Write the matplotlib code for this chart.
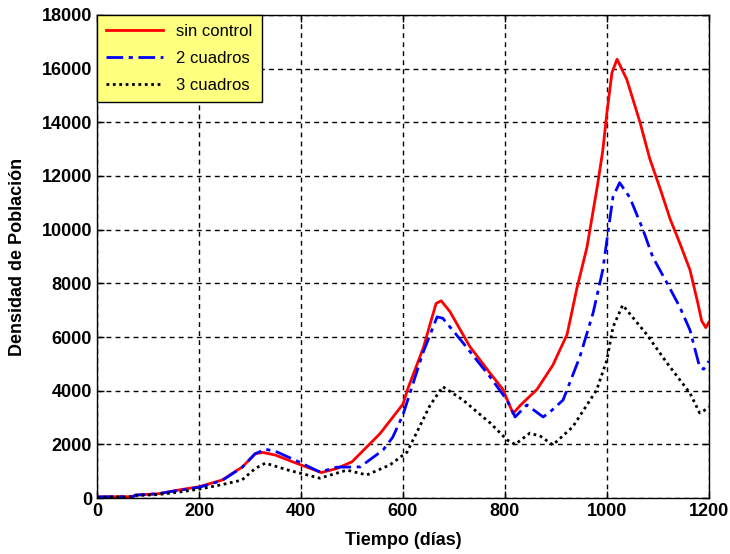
import numpy as np
import matplotlib
matplotlib.use("Agg")
import matplotlib.pyplot as plt

plt.rcParams['font.family'] = ['Liberation Sans', 'DejaVu Sans']

# Densidad de población en el tiempo (días) para cada estrategia
red_t = [0, 40, 70, 75, 120, 160, 200, 245, 285, 310, 325, 350, 385, 440, 470,
         500, 555, 600, 610, 640, 655, 665, 675, 692, 731, 771, 796, 816, 830, 863,
         894, 922, 941, 961, 982, 992, 1000, 1010, 1020, 1039, 1065, 1084, 1105,
         1124, 1143, 1163, 1178, 1186, 1194, 1200]
red_v = [40, 50, 50, 110, 160, 300, 420, 670, 1160, 1650, 1700, 1600, 1340, 950,
         1100, 1350, 2400, 3500, 4100, 5600, 6600, 7250, 7350, 6950, 5650, 4650,
         4050, 3150, 3450, 4050, 4950, 6100, 7800, 9350, 11700, 12950, 14350,
         15850, 16350, 15600, 14000, 12650, 11500, 10400, 9500, 8500, 7300, 6600,
         6350, 6550]

blue_t = [0, 40, 70, 75, 120, 160, 200, 245, 285, 310, 330, 350, 390, 437, 470,
          516, 561, 580, 600, 639, 667, 678, 718, 771, 804, 820, 843, 875, 888,
          914, 947, 973, 992, 1002, 1012, 1025, 1045, 1071, 1090, 1118, 1143,
          1163, 1182, 1190, 1200]
blue_v = [40, 50, 50, 110, 160, 290, 400, 650, 1150, 1650, 1820, 1740, 1400, 970,
          1150, 1160, 1790, 2270, 3100, 5400, 6750, 6700, 5780, 4510, 3650, 3020,
          3470, 3020, 3200, 3650, 5260, 6900, 8500, 9880, 11220, 11750, 11200,
          9990, 8980, 8010, 7120, 6260, 4880, 4800, 5100]

black_t = [0, 40, 70, 75, 120, 160, 200, 245, 284, 310, 330, 375, 437, 490, 529,
           574, 608, 653, 678, 718, 757, 771, 804, 820, 849, 870, 894, 933, 980,
           1000, 1012, 1031, 1078, 1118, 1163, 1182, 1190, 1200]
black_v = [30, 40, 40, 90, 130, 220, 330, 500, 670, 1100, 1300, 1040, 740, 1040,
           860, 1230, 1710, 3450, 4150, 3650, 3020, 2800, 2170, 2000, 2420, 2300,
           1980, 2650, 4030, 5140, 6370, 7190, 6100, 5030, 3910, 3170, 3250, 3400]

labels = ['sin control', '2 cuadros', '3 cuadros']
x_ticks = [0, 200, 400, 600, 800, 1000, 1200]
y_ticks = [0, 2000, 4000, 6000, 8000, 10000, 12000, 14000, 16000, 18000]

fig = plt.figure(figsize=(7.3, 5.54), dpi=100)
ax = fig.add_axes([0.133, 0.101, 0.838, 0.872])

ax.plot(red_t, red_v, color='red', lw=2, ls='-', label=labels[0])
ax.plot(blue_t, blue_v, color='blue', lw=2, ls=(0, (6, 2, 1.5, 2)), label=labels[1])
ax.plot(black_t, black_v, color='black', lw=2, ls=(0, (1, 1.3)), label=labels[2])

ax.set_xlim(0, 1200)
ax.set_ylim(0, 18000)
ax.set_xticks(x_ticks)
ax.set_yticks(y_ticks)
ax.grid(True, color='black', ls=(0, (3.5, 3)), lw=1)
ax.tick_params(direction='in', top=True, right=True, length=5, width=1,
               labelsize=13)
for lab in ax.get_xticklabels() + ax.get_yticklabels():
    lab.set_fontweight('bold')
    lab.set_fontstretch('condensed')
for s in ax.spines.values():
    s.set_linewidth(1)

ax.set_xlabel('Tiempo (días)', fontsize=13, fontweight='bold', labelpad=9)
ax.set_ylabel('Densidad de Población', fontsize=13, fontweight='bold', labelpad=11)

leg = ax.legend(loc='upper left', borderaxespad=0, fancybox=False,
                framealpha=1, facecolor='#ffff80', edgecolor='black',
                fontsize=12, handlelength=3.4, labelspacing=0.72,
                borderpad=0.55)
leg.get_frame().set_linewidth(1)

fig.savefig('out.png', dpi=100)
